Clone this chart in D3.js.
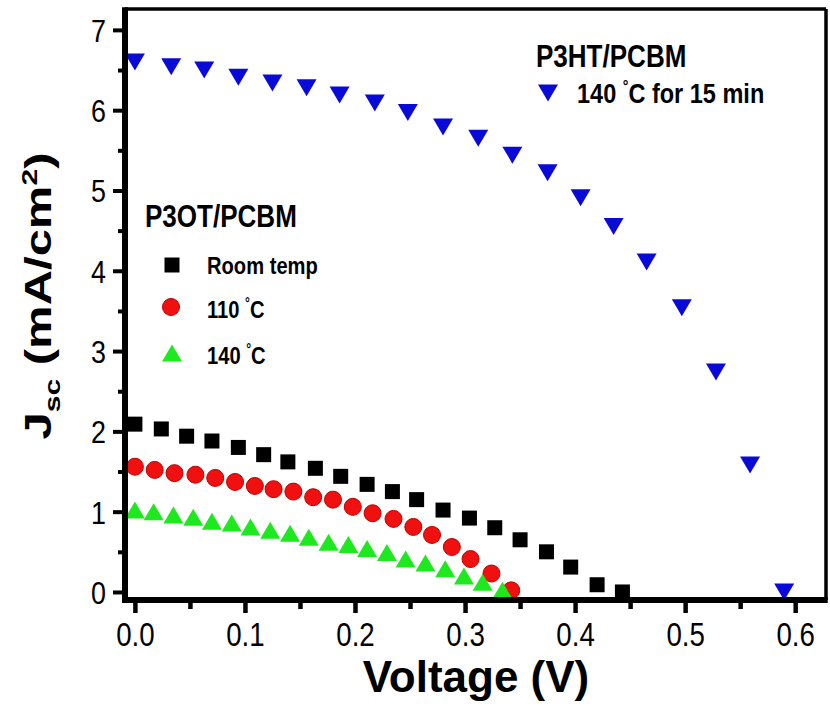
<!DOCTYPE html>
<html>
<head>
<meta charset="utf-8">
<script src="https://cdn.jsdelivr.net/npm/d3@7"></script>
<style>
  body { margin: 0; background: #fff; }
  svg { display: block; }
  text { font-family: "Liberation Sans", Arial, sans-serif; fill: #000; }
</style>
</head>
<body>
<svg id="chart" width="830" height="723"></svg>
<script>
// Short-circuit current density vs. voltage for annealed polymer/PCBM cells
const voltRT   = [0, 0.024, 0.047, 0.070, 0.094, 0.117, 0.139, 0.164, 0.187, 0.211, 0.234, 0.256, 0.280, 0.304, 0.327, 0.350, 0.374, 0.396, 0.420, 0.443];
const jscRT    = [2.09, 2.03, 1.94, 1.88, 1.80, 1.71, 1.62, 1.54, 1.44, 1.34, 1.25, 1.15, 1.02, 0.92, 0.80, 0.65, 0.50, 0.31, 0.09, 0.00];

const volt110  = [0, 0.018, 0.036, 0.055, 0.073, 0.091, 0.109, 0.126, 0.144, 0.162, 0.180, 0.198, 0.216, 0.235, 0.253, 0.270, 0.288, 0.305, 0.324, 0.342];
const jsc110   = [1.56, 1.52, 1.48, 1.46, 1.42, 1.37, 1.32, 1.28, 1.25, 1.18, 1.15, 1.06, 0.98, 0.91, 0.81, 0.71, 0.56, 0.41, 0.23, 0.02];

const volt140  = [0, 0.017, 0.035, 0.053, 0.070, 0.088, 0.105, 0.123, 0.141, 0.158, 0.176, 0.194, 0.211, 0.229, 0.246, 0.264, 0.282, 0.299, 0.316, 0.334];
const jsc140   = [1.02, 1.00, 0.96, 0.93, 0.88, 0.86, 0.81, 0.77, 0.73, 0.68, 0.62, 0.59, 0.54, 0.49, 0.41, 0.36, 0.29, 0.20, 0.12, 0.02];

const voltP3HT = [0, 0.033, 0.063, 0.094, 0.125, 0.156, 0.186, 0.218, 0.248, 0.280, 0.312, 0.343, 0.375, 0.405, 0.435, 0.465, 0.497, 0.528, 0.559, 0.590];
const jscP3HT  = [6.60, 6.54, 6.50, 6.41, 6.34, 6.28, 6.19, 6.09, 5.97, 5.79, 5.65, 5.44, 5.22, 4.91, 4.55, 4.11, 3.54, 2.74, 1.58, 0.00];

const xTicks = [0, 0.1, 0.2, 0.3, 0.4, 0.5, 0.6];
const xMinor = [0.05, 0.15, 0.25, 0.35, 0.45, 0.55];
const yTicks = [0, 1, 2, 3, 4, 5, 6, 7];
const yMinor = [0.5, 1.5, 2.5, 3.5, 4.5, 5.5, 6.5];

const svg = d3.select("#chart");
const x = d3.scaleLinear().domain([-0.009, 0.628]).range([125, 826]);
const y = d3.scaleLinear().domain([-0.1, 7.26]).range([600, 9]);
const SX = 0.84; // narrow lettering

// marker shapes (centred on their bounding box)
const triUp = (w, h) => `M0,${-h / 2}L${w / 2},${h / 2}L${-w / 2},${h / 2}Z`;
const triDown = (w, h) => `M${-w / 2},${-h / 2}L${w / 2},${-h / 2}L0,${h / 2}Z`;

const colRT = "#000000", col110 = "#f01010", col140 = "#1ee81e", colP3HT = "#0a0ad8";

function squares(g, xs, ys, c) {
  g.selectAll(null).data(xs).join("rect")
    .attr("x", (d) => x(d) - 7.5).attr("y", (d, i) => y(ys[i]) - 7.5)
    .attr("width", 15).attr("height", 15).attr("fill", c);
}
function circles(g, xs, ys, c) {
  g.selectAll(null).data(xs).join("circle")
    .attr("cx", (d) => x(d)).attr("cy", (d, i) => y(ys[i])).attr("r", 8.5)
    .attr("fill", c).attr("stroke", "#c00000").attr("stroke-width", 1);
}
function triangles(g, xs, ys, c, down) {
  g.selectAll(null).data(xs).join("path")
    .attr("transform", (d, i) => `translate(${x(d)},${y(ys[i])})`)
    .attr("d", down ? triDown(20, 17) : triUp(20, 17)).attr("fill", c);
}

const marks = svg.append("g");
squares(marks.append("g"), voltRT, jscRT, colRT);
circles(marks.append("g"), volt110, jsc110, col110);
triangles(marks.append("g"), volt140, jsc140, col140, false);
triangles(marks.append("g"), voltP3HT, jscP3HT, colP3HT, true);

// frame: heavy left/bottom axes, lighter top/right border
const [x0, x1] = x.range(), [yb, yt] = y.range();
svg.append("line").attr("x1", x0).attr("x2", x1).attr("y1", yt).attr("y2", yt).attr("stroke", "#000").attr("stroke-width", 3.5);
svg.append("line").attr("x1", x1).attr("x2", x1).attr("y1", yt).attr("y2", yb).attr("stroke", "#000").attr("stroke-width", 3.5);
svg.append("line").attr("x1", x0).attr("x2", x0).attr("y1", yt - 1.75).attr("y2", yb + 3).attr("stroke", "#000").attr("stroke-width", 6);
svg.append("line").attr("x1", x0 - 3).attr("x2", x1 + 1.75).attr("y1", yb).attr("y2", yb).attr("stroke", "#000").attr("stroke-width", 6);

// x axis
const gx = svg.append("g").attr("transform", `translate(0,${yb})`)
  .call(d3.axisBottom(x).tickValues(xTicks).tickFormat(d3.format(".1f")).tickSize(13).tickSizeOuter(0));
gx.select(".domain").remove();
gx.selectAll(".tick line").attr("stroke", "#000").attr("stroke-width", 4.5);
gx.selectAll(".tick text").attr("y", 0).attr("dy", null).attr("font-size", 33)
  .attr("transform", `translate(0,46) scale(${SX},1)`);
const gxm = svg.append("g").attr("transform", `translate(0,${yb})`)
  .call(d3.axisBottom(x).tickValues(xMinor).tickFormat("").tickSize(9).tickSizeOuter(0));
gxm.select(".domain").remove();
gxm.selectAll(".tick line").attr("stroke", "#000").attr("stroke-width", 4.5);

// y axis
const gy = svg.append("g").attr("transform", `translate(${x0},0)`)
  .call(d3.axisLeft(y).tickValues(yTicks).tickFormat(d3.format("d")).tickSize(12).tickSizeOuter(0));
gy.select(".domain").remove();
gy.selectAll(".tick line").attr("stroke", "#000").attr("stroke-width", 4);
gy.selectAll(".tick text").attr("x", 0).attr("dy", null).attr("font-size", 32)
  .attr("transform", `translate(-19,11.5) scale(${SX},1)`);
const gym = svg.append("g").attr("transform", `translate(${x0},0)`)
  .call(d3.axisLeft(y).tickValues(yMinor).tickFormat("").tickSize(7).tickSizeOuter(0));
gym.select(".domain").remove();
gym.selectAll(".tick line").attr("stroke", "#000").attr("stroke-width", 4);
svg.selectAll(".tick text").attr("font-family", null).attr("fill", "#000");

// axis titles
svg.append("text").attr("transform", "translate(476,692)")
  .attr("text-anchor", "middle").attr("font-weight", "bold").attr("font-size", 44)
  .text("Voltage (V)");

const yt1 = svg.append("text").attr("transform", "translate(51,296) rotate(-90) scale(1,0.74)")
  .attr("text-anchor", "middle").attr("font-weight", "bold").attr("font-size", 49);
yt1.append("tspan").text("J");
yt1.append("tspan").attr("font-size", 30).attr("dy", 12).text("sc");
yt1.append("tspan").attr("dy", -12).text(" (mA/cm");
yt1.append("tspan").attr("font-size", 30).attr("dy", -19).text("2");
yt1.append("tspan").attr("dy", 19).text(")");

// legends
function label(tx, ty, size, parts) {
  const t = svg.append("text").attr("transform", `translate(${tx},${ty}) scale(${SX},1)`)
    .attr("font-weight", "bold").attr("font-size", size);
  parts.forEach((p) => {
    const s = t.append("tspan").text(p.t);
    if (p.sup) s.attr("font-size", size * 0.6).attr("dy", -size * 0.4);
    if (p.after) s.attr("dy", size * 0.4);
  });
  return t;
}
const deg = (pre, post) => [{ t: pre }, { t: "°", sup: true }, { t: post, after: true }];

label(145, 227, 31, [{ t: "P3OT/PCBM" }]);
squares(svg.append("g"), [x.invert(172)], [y.invert(265)], colRT);
label(207, 274, 24, [{ t: "Room temp" }]);
circles(svg.append("g"), [x.invert(171)], [y.invert(307)], col110);
label(207, 318, 24, deg("110 ", "C"));
triangles(svg.append("g"), [x.invert(172)], [y.invert(353)], col140, false);
label(207, 364, 24, deg("140 ", "C"));

label(536, 67, 31, [{ t: "P3HT/PCBM" }]);
triangles(svg.append("g"), [x.invert(548)], [y.invert(93)], colP3HT, true);
label(577, 103, 28, deg("140 ", "C for 15 min"));
</script>
</body>
</html>
